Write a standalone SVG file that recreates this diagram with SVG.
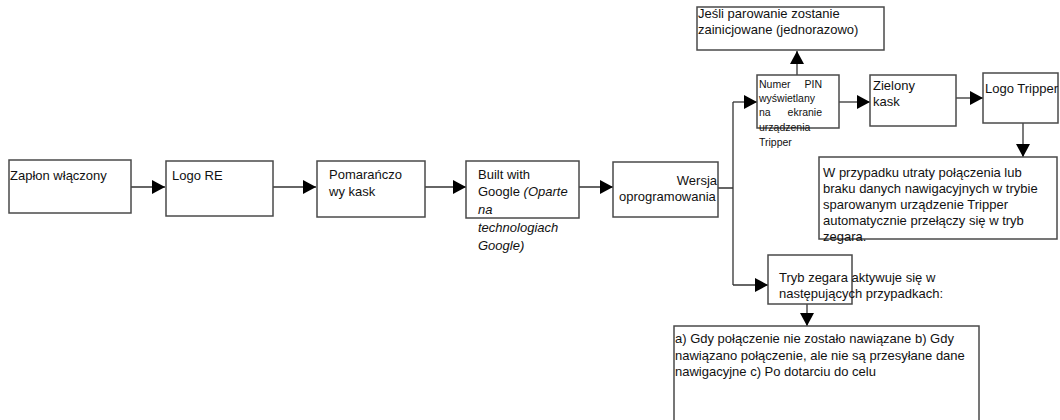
<svg xmlns="http://www.w3.org/2000/svg" width="1060" height="420" viewBox="0 0 1060 420">
<defs>
<marker id="ah" markerWidth="13" markerHeight="14" refX="13" refY="7" orient="auto" markerUnits="userSpaceOnUse">
<path d="M0,0 L13,7 L0,14 Z" fill="#000"/>
</marker>
<style>
.box{fill:#fff;stroke:#4a4a4a;stroke-width:1.5}
.ln{fill:none;stroke:#333;stroke-width:1.3}
text{font-family:"Liberation Sans",Arial,sans-serif;font-size:13px;fill:#111}
.sm{font-size:10.5px}
</style>
</defs>
<rect width="1060" height="420" fill="#fff"/>
<g id="connectors">
<path class="ln" d="M131,187 H165" marker-end="url(#ah)"/>
<path class="ln" d="M273,187 H316" marker-end="url(#ah)"/>
<path class="ln" d="M425,187 H466" marker-end="url(#ah)"/>
<path class="ln" d="M579,187 H613" marker-end="url(#ah)"/>
<path class="ln" d="M718,188 H733 M733,102 V285"/>
<path class="ln" d="M733,102 H757" marker-end="url(#ah)"/>
<path class="ln" d="M733,285 H768" marker-end="url(#ah)"/>
<path class="ln" d="M797,75 V51" marker-end="url(#ah)"/>
<path class="ln" d="M839,102 H870" marker-end="url(#ah)"/>
<path class="ln" d="M956,98 H983" marker-end="url(#ah)"/>
<path class="ln" d="M1023,123 V157" marker-end="url(#ah)"/>
<path class="ln" d="M807,304 V326" marker-end="url(#ah)"/>
</g>
<g id="n1"><rect class="box" x="9" y="160" width="122" height="53"/><text x="10" y="180" font-size="13.3">Zapłon włączony</text></g>
<g id="n2"><rect class="box" x="166" y="161" width="107" height="55"/><text x="172" y="180">Logo RE</text></g>
<g id="n3"><rect class="box" x="317" y="161" width="108" height="56"/><text x="329" y="179">Pomarańczo</text><text x="329" y="196">wy kask</text></g>
<g id="n4"><rect class="box" x="466" y="161" width="113" height="57"/><text x="478" y="179">Built with</text><text x="478" y="196">Google <tspan font-style="italic">(Oparte</tspan></text><text x="478" y="214" font-style="italic">na</text><text x="478" y="232" font-style="italic">technologiach</text><text x="478" y="250" font-style="italic">Google)</text></g>
<g id="n5"><rect class="box" x="613" y="162" width="105" height="55"/><text x="717" y="185" text-anchor="end">Wersja</text><text x="619" y="201">oprogramowania</text></g>
<g id="n6"><rect class="box" x="757" y="75" width="82" height="53"/><text class="sm" x="759" y="88">Numer</text><text class="sm" x="822" y="88" text-anchor="end">PIN</text><text class="sm" x="759" y="102">wyświetlany</text><text class="sm" x="759" y="116">na</text><text class="sm" x="822" y="116" text-anchor="end">ekranie</text><text class="sm" x="759" y="131">urządzenia</text><text class="sm" x="759" y="146">Tripper</text></g>
<g id="n7"><rect class="box" x="697" y="7" width="187" height="43"/><text x="698" y="18">Jeśli parowanie zostanie</text><text x="698" y="34">zainicjowane (jednorazowo)</text></g>
<g id="n8"><rect class="box" x="870" y="75" width="86" height="51"/><text x="873" y="90">Zielony</text><text x="873" y="106">kask</text></g>
<g id="n9"><rect class="box" x="983" y="73" width="75" height="50"/><text x="985" y="93">Logo Tripper</text></g>
<g id="n10"><rect class="box" x="819" y="157" width="238" height="82"/><g font-size="13.3"><text x="823" y="177">W przypadku utraty połączenia lub</text><text x="823" y="193">braku danych nawigacyjnych w trybie</text><text x="823" y="209">sparowanym urządzenie Tripper</text><text x="823" y="225">automatycznie przełączy się w tryb</text><text x="823" y="241">zegara.</text></g></g>
<g id="n11"><rect class="box" x="768" y="255" width="84" height="49"/><text x="779" y="282">Tryb zegara aktywuje się w</text><text x="779" y="298">następujących przypadkach:</text></g>
<g id="n12"><rect class="box" x="674" y="326" width="305" height="100"/><g font-size="12.7"><text x="675" y="343">a) Gdy połączenie nie zostało nawiązane b) Gdy</text><text x="675" y="360">nawiązano połączenie, ale nie są przesyłane dane</text><text x="675" y="376">nawigacyjne c) Po dotarciu do celu</text></g></g>
</svg>
